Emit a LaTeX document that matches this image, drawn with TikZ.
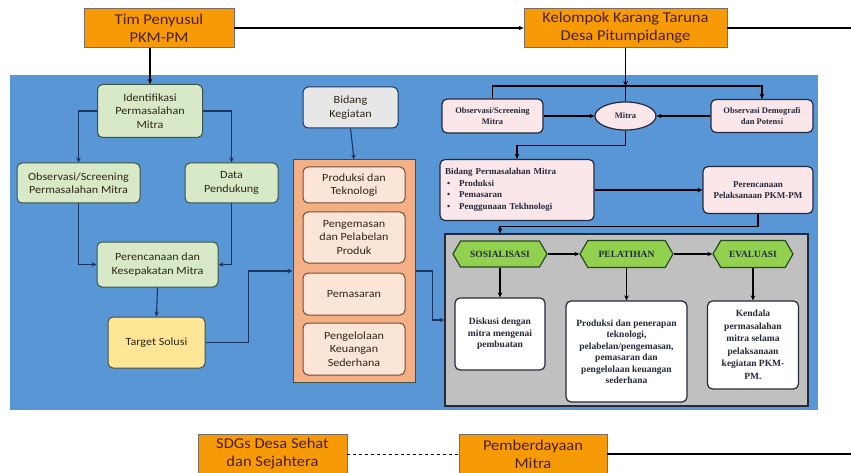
\documentclass[tikz,border=0pt]{standalone}
\usepackage{fontspec}
\setmainfont{Carlito}[FakeStretch=1.1]
\newfontfamily\tnr{Liberation Serif}
\usetikzlibrary{arrows.meta,shapes.geometric,shapes.symbols}
\definecolor{orangeT}{RGB}{246,154,8}
\definecolor{brownT}{RGB}{75,32,8}
\definecolor{bluebg}{RGB}{88,150,214}
\definecolor{gfill}{RGB}{216,233,199}
\definecolor{gborder}{RGB}{62,82,66}
\definecolor{darktxt}{RGB}{45,38,22}
\definecolor{kfill}{RGB}{232,231,231}
\definecolor{yfill}{RGB}{255,229,150}
\definecolor{ofill}{RGB}{244,176,132}
\definecolor{pfill}{RGB}{251,229,214}
\definecolor{rfill}{RGB}{251,230,234}
\definecolor{dk}{RGB}{35,42,58}
\definecolor{graypanel}{RGB}{192,192,192}
\definecolor{hexfill}{RGB}{146,208,80}
\definecolor{hexborder}{RGB}{40,75,30}
\definecolor{navy}{RGB}{28,52,96}
\definecolor{topborder}{RGB}{120,110,100}
\begin{document}
\begin{tikzpicture}[x=1pt,y=-1pt,
  tb/.style={draw=topborder, line width=0.8pt, fill=orangeT, minimum width=150pt, minimum height=39pt,
    font=\fontsize{15}{18}\selectfont, text=brownT, align=center, inner sep=1pt},
  gbox/.style={draw=gborder, line width=1pt, fill=gfill, rounded corners=5pt, align=center,
    font=\fontsize{11}{13.5}\selectfont, text=darktxt, inner sep=1pt},
  kbox/.style={gbox, fill=kfill, draw=navy},
  ybox/.style={gbox, fill=yfill, draw=gborder},
  obox/.style={draw=gborder, line width=1pt, fill=ofill, inner sep=0pt},
  pbox/.style={gbox, fill=pfill, draw=brownT!80},
  rbox/.style={draw=dk, line width=1.2pt, fill=rfill, rounded corners=5pt, align=center,
    font=\tnr\bfseries\fontsize{8.5}{10.5}\selectfont, text=dk, inner sep=1pt},
  wbox/.style={rbox, fill=white},
  hexa/.style={shape=signal, signal to=west and east, signal pointer angle=120, draw=hexborder,
    line width=1.2pt, fill=hexfill, inner sep=1pt, font=\tnr\bfseries\fontsize{9.5}{11}\selectfont, text=dk},
  narr/.style={draw=navy, line width=1.1pt, -{Stealth[length=5pt,width=4.5pt]}},
  barr/.style={draw=black, line width=1.2pt, -{Stealth[length=5pt,width=4.5pt]}},
  bline/.style={draw=black, line width=1.2pt},
]
\useasboundingbox (0,0) rectangle (851,473);
\fill[white] (0,0) rectangle (851,473);

% top row
\node[tb] (tim) at (159,28) {Tim Penyusul\\PKM-PM};
\node[tb, minimum width=203pt] (kel) at (625.5,28) {Kelompok Karang Taruna\\Desa Pitumpidange};
\coordinate (topend) at (851,28);

% blue background
\fill[bluebg] (10,75) rectangle (818,410);

% left column
\node[gbox, minimum width=105pt, minimum height=53pt] (ident) at (150,111) {Identifikasi\\Permasalahan\\Mitra};
\node[gbox, minimum width=123pt, minimum height=40pt] (obs) at (78.5,183) {Observasi/Screening\\Permasalahan Mitra};
\node[gbox, minimum width=93pt, minimum height=40pt] (data) at (231.5,183) {Data\\Pendukung};
\node[gbox, minimum width=121pt, minimum height=45pt] (per) at (157.5,264.5) {Perencanaan dan\\Kesepakatan Mitra};
\node[ybox, minimum width=97pt, minimum height=51pt] (target) at (156.5,342.5) {Target Solusi};

% middle column
\node[kbox, minimum width=95pt, minimum height=41pt] (bidang) at (350.5,107.5) {Bidang\\Kegiatan};
\node[obox, minimum width=122pt, minimum height=222pt] (ob) at (354,271) {};
\node[pbox, minimum width=102pt, minimum height=36pt] (p1) at (354,185) {Produksi dan\\Teknologi};
\node[pbox, minimum width=102pt, minimum height=51pt] (p2) at (354,237.5) {Pengemasan\\dan Pelabelan\\Produk};
\node[pbox, minimum width=102pt, minimum height=42pt] (p3) at (354,294) {Pemasaran};
\node[pbox, minimum width=102pt, minimum height=52pt] (p4) at (354,349) {Pengelolaan\\Keuangan\\Sederhana};

% right part
\node[rbox, minimum width=101pt, minimum height=34pt] (obsm) at (492.5,116) {Observasi/Screening\\Mitra};
\node[rbox, shape=ellipse, rounded corners=0pt, minimum width=61pt, minimum height=28pt, inner sep=0pt] (mitra) at (625.5,116) {Mitra};
\node[rbox, minimum width=102pt, minimum height=33pt] (obsd) at (762,116) {Observasi Demografi\\dan Potensi};
\coordinate (jn) at (625.5,86);
\node[rbox, minimum width=154pt, minimum height=61pt, text width=144pt, align=left,
  font=\tnr\bfseries\fontsize{9}{11.5}\selectfont] (bpm) at (517,190)
  {Bidang Permasalahan Mitra\\
   \hspace*{2pt}\textbullet\hspace{9pt}Produksi\\
   \hspace*{2pt}\textbullet\hspace{9pt}Pemasaran\\
   \hspace*{2pt}\textbullet\hspace{9pt}Penggunaan Tekhnologi};
\node[rbox, minimum width=110pt, minimum height=47pt, font=\tnr\bfseries\fontsize{9}{11}\selectfont] (pp) at (758,190) {Perencanaan\\Pelaksanaan PKM-PM};

% grey panel
\node[draw=dk, line width=1.2pt, fill=graypanel, minimum width=363pt, minimum height=172pt, inner sep=0pt] (gray) at (626.5,320) {};
\node[hexa, minimum width=94pt, minimum height=26pt] (sos) at (500,254) {SOSIALISASI};
\node[hexa, minimum width=93pt, minimum height=27pt] (pel) at (626.5,254) {PELATIHAN};
\node[hexa, minimum width=80pt, minimum height=27pt] (eval) at (753,254) {EVALUASI};
\node[wbox, minimum width=90pt, minimum height=72pt, font=\tnr\bfseries\fontsize{9.5}{11.5}\selectfont] (disk) at (500,334) {Diskusi dengan\\mitra mengenai\\pembuatan};
\node[wbox, minimum width=121pt, minimum height=101pt, font=\tnr\bfseries\fontsize{9.5}{11.5}\selectfont] (prod) at (626.5,351.5)
  {Produksi dan penerapan\\teknologi,\\pelabelan/pengemasan,\\pemasaran dan\\pengelolaan keuangan\\sederhana};
\node[wbox, minimum width=91pt, minimum height=88pt, font=\tnr\bfseries\fontsize{9.5}{12.5}\selectfont] (kend) at (753,345)
  {Kendala\\permasalahan\\mitra selama\\pelaksanaan\\kegiatan PKM-\\PM.};

% bottom row
\node[tb, minimum width=149pt] (sdg) at (272.5,454) {SDGs Desa Sehat\\dan Sejahtera};
\node[tb, minimum width=148pt] (pem) at (533,454) {Pemberdayaan\\Mitra};
\coordinate (botend) at (851,454);

% connectors: top
\draw[barr] (tim.east) -- (kel.west);
\draw[bline] (kel.east) -- (topend);
\draw[barr] (ident.north |- tim.south) -- (ident.north);
\draw[barr] (kel.south) -- (jn);
\draw[bline] (jn) -- (mitra.north);
\draw[bline] (jn) -| (obsm.north);
\draw[barr] (jn) -| (obsd.north);

% left connectors
\draw[narr] (ident.west) -| (obs.north);
\draw[narr] (ident.east) -| (data.north);
\draw[narr] (obs.south) |- (per.west);
\draw[narr] (data.south) |- (per.east);
\draw[narr] (per.south) -- (target.north);
\draw[narr] (target.east) -- ++(43,0) |- (ob.west);
\draw[narr] (bidang.south) -- (ob.north);
\draw[narr] (ob.east) -- ++(17,0) |- (gray.west);

% right connectors
\draw[barr] (obsm.east) -- (mitra.west);
\draw[barr] (obsd.west) -- (mitra.east);
\draw[barr] (mitra.south) -- ++(0,15) -| (bpm.north);
\draw[barr] (bpm.east) -- (pp.west);
\draw[barr] (pp.south) -- ++(0,12) -| (gray.north -| sos.north);
\draw[barr] (sos.east) -- (pel.west);
\draw[barr] (pel.east) -- (eval.west);
\draw[barr] (sos.south) -- (disk.north);
\draw[barr] (pel.south) -- (prod.north);
\draw[barr] (eval.south) -- (kend.north);

% bottom connectors
\draw[bline, dashed, line width=1pt] (sdg.east) -- (pem.west);
\draw[bline] (pem.east) -- (botend);
\end{tikzpicture}
\end{document}
